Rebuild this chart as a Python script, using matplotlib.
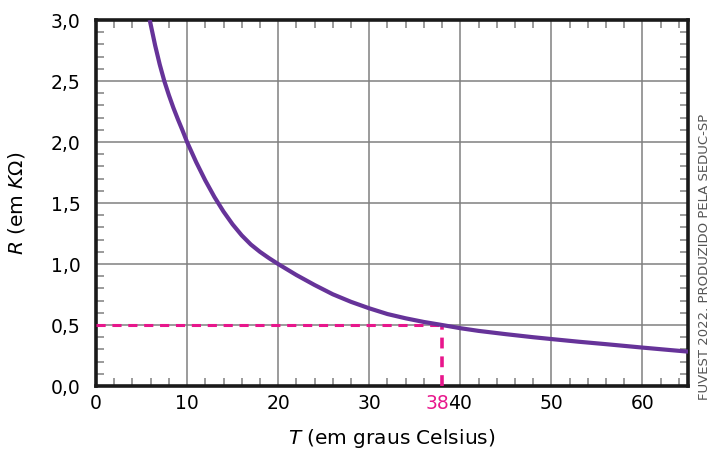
import matplotlib.pyplot as plt
from matplotlib.ticker import MultipleLocator

plt.rcParams['font.family'] = ['DejaVu Sans']
plt.rcParams['mathtext.fontset'] = 'dejavusans'

# valores
temp = [5.9, 6.5, 7.0, 7.5, 8.0, 8.5, 9.0, 9.5, 10, 11, 12, 13, 14, 15, 16,
        17, 18, 19, 20, 22, 24, 26, 28, 30, 32, 34, 36, 38, 40, 42, 45, 48,
        50, 53, 56, 60, 63, 65]
resist = [3.0, 2.79, 2.635, 2.50, 2.385, 2.28, 2.185, 2.095, 2.0, 1.835,
          1.685, 1.55, 1.43, 1.325, 1.235, 1.16, 1.10, 1.048, 1.0, 0.91,
          0.828, 0.752, 0.69, 0.637, 0.59, 0.555, 0.525, 0.50, 0.474, 0.452,
          0.425, 0.40, 0.385, 0.363, 0.343, 0.315, 0.295, 0.282]
t_marca = 38
r_marca = 0.5
xticks = [0, 10, 20, 30, 40, 50, 60]
yticks = [0.0, 0.5, 1.0, 1.5, 2.0, 2.5, 3.0]

roxo = '#663399'
rosa = '#E8168C'

fig = plt.figure(figsize=(7.11, 4.55), dpi=100)
ax = fig.add_axes([0.135, 0.1516, 0.8327, 0.8044])

ax.grid(True, which='major', color='#808080', lw=1.1)
ax.set_axisbelow(True)

ax.plot([0, t_marca], [r_marca, r_marca], color=rosa, lw=2.2, ls=(0, (3, 2.2)), zorder=3)
ax.plot([t_marca, t_marca], [0, r_marca], color=rosa, lw=2.6, ls=(0, (3, 2.2)), zorder=3)
ax.plot(temp, resist, color=roxo, lw=3.0, zorder=4, solid_capstyle='butt')

ax.set_xlim(0, 65)
ax.set_ylim(0, 3.0)

ax.set_xticks(xticks)
ax.set_xticklabels([str(v) for v in xticks])
ax.set_yticks(yticks)
ax.set_yticklabels([f'{v:.1f}'.replace('.', ',') for v in yticks])
ax.xaxis.set_minor_locator(MultipleLocator(2))
ax.yaxis.set_minor_locator(MultipleLocator(0.1))
ax.tick_params(which='major', length=0, labelsize=13.5)
ax.tick_params(axis='y', which='major', pad=11)
ax.tick_params(axis='x', which='major', pad=6)
ax.tick_params(which='minor', direction='in', length=6, width=1.1, color='#808080',
               top=True, right=True)

# marca 38 no eixo x
ax.annotate('38', xy=(t_marca, 0), xycoords=('data', 'axes fraction'),
            xytext=(-3.5, -6), textcoords='offset points',
            color=rosa, fontsize=13.5, ha='center', va='top')

for s in ax.spines.values():
    s.set_linewidth(2.6)
    s.set_color('#1a1a1a')

ax.set_xlabel('$T$ (em graus Celsius)', fontsize=14.5, labelpad=10)
ax.set_ylabel('$R$ (em $K\\Omega$)', fontsize=14.5, labelpad=17)

fig.text(0.991, 0.121, 'FUVEST 2022. PRODUZIDO PELA SEDUC-SP', rotation=90,
         fontsize=9.5, color='#555555', ha='center', va='bottom')

fig.savefig('out.png', dpi=100)
